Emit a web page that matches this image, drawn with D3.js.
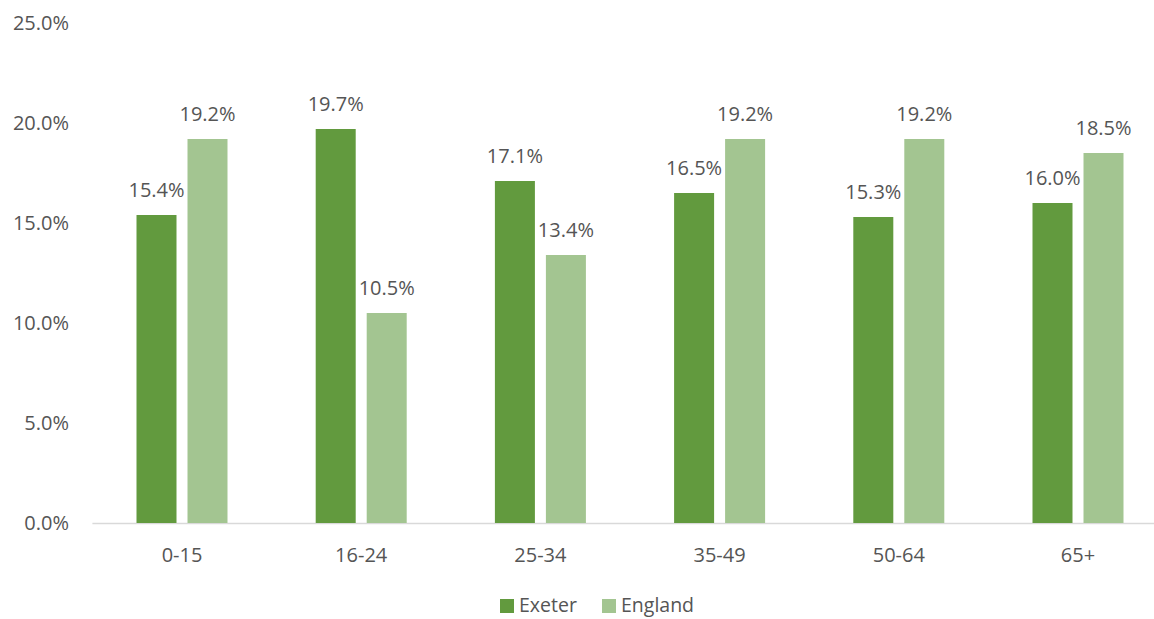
<!DOCTYPE html>
<html><head><meta charset="utf-8">
<script src="https://cdn.jsdelivr.net/npm/d3@7"></script>
<style>body{margin:0;background:#fff}text{font-family:"Open Sans",sans-serif;fill:#555555}</style>
</head><body><svg id="c" width="1154" height="619"></svg>
<script>
const categories = ["0-15","16-24","25-34","35-49","50-64","65+"];
const seriesNames = ["Exeter","England"];
const exeter = [15.4,19.7,17.1,16.5,15.3,16.0];
const england = [19.2,10.5,13.4,19.2,19.2,18.5];
const yTicks = [0,5,10,15,20,25];
const colors = ["#629A3E","#A3C591"];

(function(){
const svg = d3.select("#c");
const mLeft = 92.4, mRight = 1167.6, mTop = 23, mBottom = 523;
const x = d3.scaleBand().domain(categories).range([mLeft,mRight]).paddingInner(0).paddingOuter(0);
const y = d3.scaleLinear().domain([0,25]).range([mBottom,mTop]);
const barW = 40, gap = 11;

svg.append("g").selectAll("text").data(yTicks).join("text")
  .attr("x",69).attr("y",d=>y(d)).attr("dy","0.35em").attr("text-anchor","end")
  .style("font-size","20px").text(d=>d.toFixed(1)+"%");

svg.append("line").attr("x1",mLeft).attr("x2",1154).attr("y1",mBottom+0.5).attr("y2",mBottom+0.5)
  .attr("stroke","#D9D9D9").attr("stroke-width",1.5);

const series = [exeter, england];
series.forEach((vals,si)=>{
  const off = si===0 ? -(gap/2+barW) : gap/2;
  const g = svg.append("g");
  g.selectAll("rect").data(vals).join("rect")
    .attr("x",(d,i)=>x(categories[i])+x.bandwidth()/2+off)
    .attr("width",barW)
    .attr("y",d=>y(d)).attr("height",d=>mBottom-y(d))
    .attr("fill",colors[si]);
  g.selectAll("text").data(vals).join("text")
    .attr("x",(d,i)=>x(categories[i])+x.bandwidth()/2+off+barW/2)
    .attr("y",d=>y(d)-18).attr("text-anchor","middle")
    .style("font-size","20px").text(d=>d.toFixed(1)+"%");
});

svg.append("g").selectAll("text").data(categories).join("text")
  .attr("x",d=>x(d)+x.bandwidth()/2).attr("y",562).attr("text-anchor","middle")
  .style("font-size","20px").text(d=>d);

const legX = [500,602];
seriesNames.forEach((n,i)=>{
  svg.append("rect").attr("x",legX[i]).attr("y",599).attr("width",14).attr("height",14).attr("fill",colors[i]);
  svg.append("text").attr("x",legX[i]+19).attr("y",612).style("font-size","19.5px").text(n);
});
})();
</script></body></html>
